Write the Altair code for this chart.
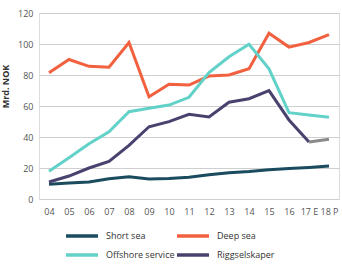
import altair as alt
import pandas as pd

years = ["04", "05", "06", "07", "08", "09", "10", "11", "12", "13", "14", "15", "16", "17 E", "18 P"]
short_sea = [9.5, 10.3, 11.0, 13.1, 14.4, 12.9, 13.3, 14.0, 15.7, 17.0, 17.8, 18.9, 19.6, 20.4, 21.3]
deep_sea = [81.5, 90.0, 85.6, 85.0, 101.0, 66.0, 74.0, 73.5, 79.3, 80.0, 84.0, 107.0, 98.0, 101.0, 106.0]
offshore = [17.9, 26.6, 35.7, 43.4, 56.3, 58.5, 60.6, 65.6, 81.5, 91.8, 99.8, 84.0, 55.7, 54.2, 52.7]
rigg = [11.0, 14.8, 20.0, 24.3, 34.6, 46.6, 49.9, 54.6, 52.9, 62.4, 64.7, 69.9, 51.0, 36.8, None]
rigg_forecast_years = ["17 E", "18 P"]
rigg_forecast = [36.8, 38.6]

series_names = ["Short sea", "Deep sea", "Offshore service", "Riggselskaper"]
series_colors = ["#1b4b5e", "#f2613f", "#62d2c9", "#47436e"]

rows = []
for name, vals in zip(series_names, [short_sea, deep_sea, offshore, rigg]):
    for y, v in zip(years, vals):
        if v is not None:
            rows.append({"year": y, "value": v, "series": name})
df = pd.DataFrame(rows)
df_fc = pd.DataFrame({"year": rigg_forecast_years, "value": rigg_forecast})

FONT = "Open Sans"
xscale = alt.Scale(type="point", padding=0.5, domain=years)
yscale = alt.Scale(domain=[0, 120])

x_axis = alt.Axis(title=None, labelAngle=0, ticks=False, domain=False,
                  labelFontSize=9, labelColor="#555", labelPadding=8, grid=False)
y_axis = alt.Axis(values=[0, 20, 40, 60, 80, 100, 120], title="Mrd. NOK",
                  titleFontSize=9, titleFontWeight="bold", titleColor="#333",
                  titleX=-29, titleY=73, labelOverlap=False,
                  labelFontSize=9, labelColor="#555", labelPadding=6,
                  ticks=False, domain=False, grid=True,
                  gridColor="#cfcfcf", gridWidth=1)

lines = alt.Chart(df).mark_line(strokeWidth=3, strokeJoin="miter").encode(
    x=alt.X("year:O", sort=years, scale=xscale, axis=x_axis),
    y=alt.Y("value:Q", scale=yscale, axis=y_axis),
    color=alt.Color("series:N", sort=series_names,
                    scale=alt.Scale(domain=series_names, range=series_colors),
                    legend=alt.Legend(title=None, orient="none", legendX=31, legendY=211,
                                      direction="horizontal", padding=0,
                                      columns=2, symbolType="M-1.6,0H1.6", symbolSize=400,
                                      symbolStrokeWidth=3.5, labelFontSize=9,
                                      labelColor="#333", columnPadding=-5, rowPadding=0,
                                      labelOffset=12, gridAlign="all")),
)

fc = alt.Chart(df_fc).mark_line(strokeWidth=3, color="#8a8a8a").encode(
    x=alt.X("year:O", sort=years, scale=xscale, axis=x_axis),
    y=alt.Y("value:Q", scale=yscale, axis=y_axis),
)

chart = alt.layer(lines, fc).properties(
    width=300, height=186,
    autosize=alt.AutoSizeParams(type="none"),
    padding={"left": 39, "top": 13, "right": 3, "bottom": 65},
).configure_view(stroke=None).configure(font=FONT)

chart.save("out.html", embed_options={"renderer": "svg", "actions": False})
